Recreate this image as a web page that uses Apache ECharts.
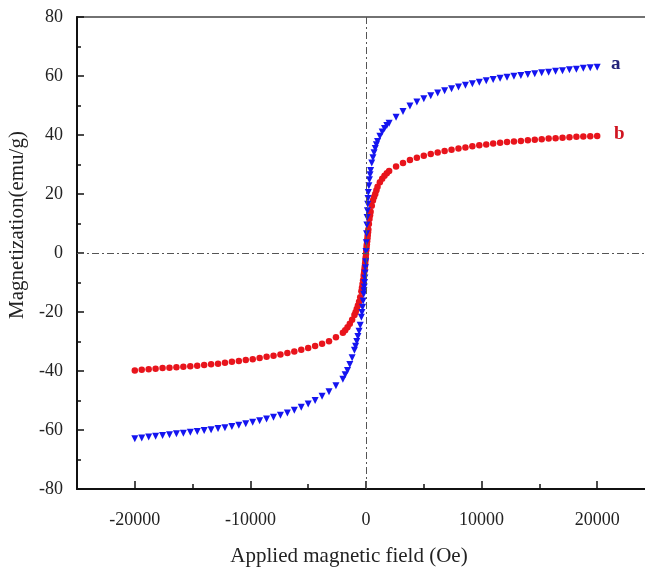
<!DOCTYPE html>
<html>
<head>
<meta charset="utf-8">
<title>Magnetization curves</title>
<script src="https://cdn.jsdelivr.net/npm/echarts@6/dist/echarts.min.js"></script>
<style>
  html, body { margin: 0; padding: 0; background: #fff; }
  #chart { width: 645px; height: 570px; }
</style>
</head>
<body>
<div id="chart"></div>
<script>
// applied field (Oe), shared by both samples
const field = [
  -20000, -19400, -18800, -18200, -17600, -17000, -16400, -15800, -15200, -14600,
  -14000, -13400, -12800, -12200, -11600, -11000, -10400, -9800, -9200, -8600,
  -8000, -7400, -6800, -6200, -5600, -5000, -4400, -3800, -3200, -2600, -2000,
  -1800, -1600, -1400, -1200, -1000, -900, -800, -700, -600, -500, -400, -350, -300, -250,
  -200, -175, -150, -125, -100, -75, -50, -25, 0, 25, 50, 75, 100, 125, 150, 175, 200,
  250, 300, 350, 400, 500, 600, 700, 800, 900, 1000, 1200, 1400, 1600, 1800,
  2000, 2600, 3200, 3800, 4400, 5000, 5600, 6200, 6800, 7400, 8000, 8600, 9200, 9800,
  10400, 11000, 11600, 12200, 12800, 13400, 14000, 14600, 15200, 15800, 16400, 17000,
  17600, 18200, 18800, 19400, 20000
];

// sample a (blue, triangles)
const magA = [
  -63.0, -62.7, -62.4, -62.1, -61.9, -61.6, -61.3, -61.1, -60.8, -60.5,
  -60.2, -59.9, -59.5, -59.2, -58.8, -58.4, -57.9, -57.4, -56.9, -56.3,
  -55.7, -55.0, -54.2, -53.3, -52.3, -51.2, -50.0, -48.6, -47.0, -45.0, -42.8,
  -41.3, -39.8, -37.8, -35.5, -33.0, -31.6, -30.0, -28.3, -26.5, -24.5, -21.8, -20.2, -18.4, -16.3,
  -14.0, -12.8, -11.5, -10.0, -8.5, -6.8, -5.0, -3.0, 0.5, 3.5, 6.5, 9.5, 12.0, 14.3, 16.5, 18.5, 20.5,
  22.8, 24.8, 26.5, 28.0, 30.5, 32.3, 34.0, 35.4, 36.7, 37.8, 39.6, 41.0, 42.2, 43.2,
  44.0, 46.0, 48.0, 49.8, 51.2, 52.3, 53.3, 54.2, 55.0, 55.7, 56.3, 56.9, 57.4, 57.9,
  58.4, 58.8, 59.2, 59.6, 59.9, 60.2, 60.5, 60.8, 61.1, 61.3, 61.6, 61.8,
  62.1, 62.3, 62.6, 62.8, 63.0
];

// sample b (red, circles)
const magB = [
  -39.8, -39.6, -39.4, -39.2, -39.0, -38.9, -38.7, -38.6, -38.4, -38.2,
  -38.0, -37.7, -37.5, -37.2, -36.9, -36.6, -36.3, -36.0, -35.6, -35.2,
  -34.8, -34.4, -33.9, -33.4, -32.8, -32.2, -31.5, -30.8, -29.9, -28.6, -27.0,
  -26.2, -25.2, -24.0, -22.6, -21.0, -20.1, -19.0, -17.8, -16.5, -15.0, -13.0, -11.8, -10.5, -9.2,
  -7.8, -7.0, -6.2, -5.4, -4.5, -3.6, -2.5, -1.4, -0.3, 0.9, 2.0, 3.0, 4.0, 5.0, 6.0, 7.0, 8.0,
  9.8, 11.5, 12.8, 14.0, 16.0, 17.8, 19.0, 20.0, 21.3, 22.5, 24.0, 25.2, 26.2, 27.0,
  27.8, 29.3, 30.5, 31.5, 32.3, 33.0, 33.6, 34.1, 34.6, 35.0, 35.4, 35.8, 36.2, 36.5,
  36.8, 37.1, 37.4, 37.6, 37.8, 38.0, 38.2, 38.4, 38.6, 38.8, 38.9, 39.1,
  39.2, 39.4, 39.5, 39.6, 39.7
];

const xLabels = [-20000, -10000, 0, 10000, 20000];
const xMinor = [-15000, -5000, 5000, 15000];

const font = "'Liberation Serif', 'Times New Roman', serif";

const pairs = (ys) => field.map((x, i) => [x, ys[i]]);

const chart = echarts.init(document.getElementById("chart"));

chart.setOption({
  backgroundColor: "#fff",
  animation: false,
  grid: {
    left: 77,
    top: 17,
    width: 578,
    height: 472,
    outerBoundsMode: "none",
    containLabel: false,
    show: true,
    borderColor: "#444",
    borderWidth: 1.5,
  },
  xAxis: [
    {
      type: "value",
      min: -25000,
      max: 25000,
      splitLine: { show: false },
      axisLine: { onZero: false, lineStyle: { color: "#111", width: 2 } },
      axisTick: {
        inside: true,
        length: 8,
        customValues: xLabels,
        lineStyle: { color: "#111", width: 1.5 },
      },
      axisLabel: {
        customValues: xLabels,
        formatter: (v) => String(v),
        margin: 22,
        color: "#222",
        fontSize: 18,
        fontFamily: font,
      },
      name: "Applied magnetic field (Oe)",
      nameLocation: "middle",
      nameGap: 57,
      nameTextStyle: {
        color: "#222",
        fontSize: 21,
        fontFamily: font,
        padding: [0, 34, 0, 0],
      },
    },
    {
      type: "value",
      min: -25000,
      max: 25000,
      position: "bottom",
      splitLine: { show: false },
      axisLine: { show: false, onZero: false },
      axisTick: {
        inside: true,
        length: 5,
        customValues: xMinor,
        lineStyle: { color: "#111", width: 1.5 },
      },
      axisLabel: { show: false },
    },
  ],
  yAxis: {
    type: "value",
    min: -80,
    max: 80,
    interval: 20,
    splitLine: { show: false },
    axisLine: { onZero: false, lineStyle: { color: "#111", width: 2 } },
    axisTick: { inside: true, length: 7, lineStyle: { color: "#111", width: 1.5 } },
    minorTick: { show: true, splitNumber: 2, length: 4, lineStyle: { color: "#111", width: 1.5 } },
    axisLabel: {
      margin: 14,
      color: "#222",
      fontSize: 18,
      fontFamily: font,
    },
    name: "Magnetization(emu/g)",
    nameLocation: "middle",
    nameGap: 45,
    nameTextStyle: {
      color: "#222",
      fontSize: 21,
      fontFamily: font,
      padding: [0, 0, 0, 56],
    },
  },
  series: [
    {
      name: "b",
      type: "scatter",
      data: pairs(magB),
      symbol: "circle",
      symbolSize: 6.5,
      itemStyle: { color: "#e8141c", opacity: 1 },
      markLine: {
        silent: true,
        symbol: "none",
        label: { show: false },
        lineStyle: { color: "#555", width: 1, type: [7, 3, 2, 3] },
        data: [{ xAxis: 0 }, { yAxis: 0 }],
      },
    },
    {
      name: "a",
      type: "scatter",
      data: pairs(magA),
      symbol: "triangle",
      symbolRotate: 180,
      symbolSize: 7,
      itemStyle: { color: "#1414f0", opacity: 1 },
    },
  ],
  graphic: [
    {
      type: "text",
      left: 611,
      top: 55,
      style: { text: "a", fill: "#23237a", font: "bold 19px " + font },
    },
    {
      type: "text",
      left: 614,
      top: 125,
      style: { text: "b", fill: "#d01420", font: "bold 19px " + font },
    },
  ],
});
</script>
</body>
</html>
